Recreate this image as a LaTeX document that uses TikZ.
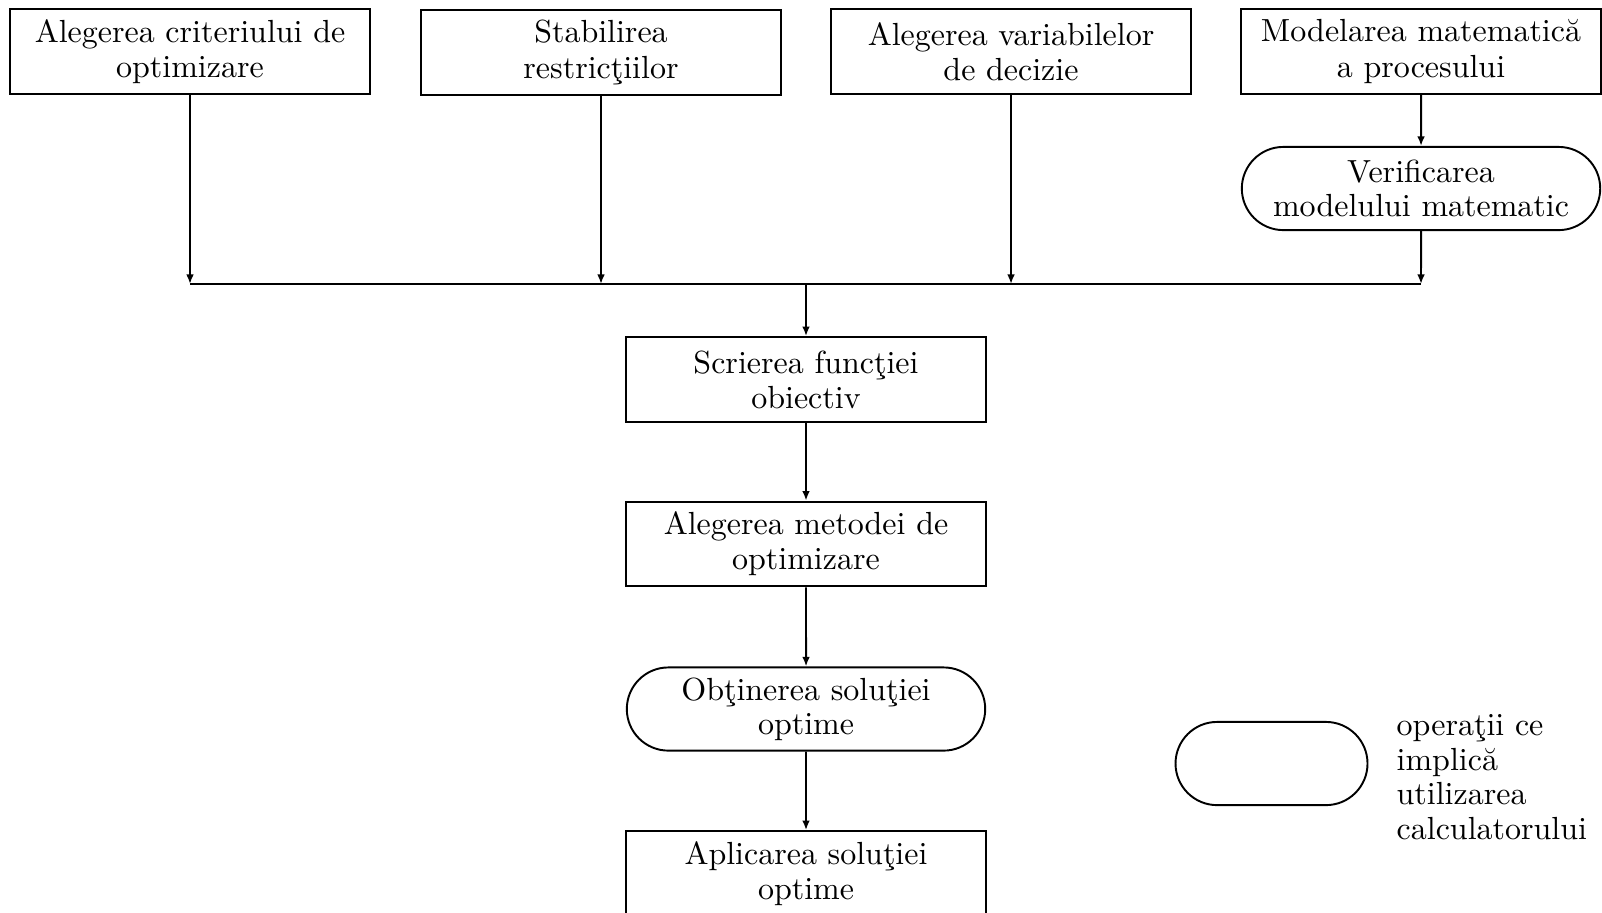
\documentclass[tikz,border=0pt]{standalone}
\usepackage{tikz}
\usetikzlibrary{shapes.misc,arrows.meta}

\begin{document}
\begin{tikzpicture}[x=0.3125pt,y=-0.3125pt,
  box/.style={draw, line width=0.6pt, minimum width=112.5pt, minimum height=26.5pt,
    align=center, inner sep=1pt, font=\fontsize{10}{11}\selectfont},
  calcbox/.style={draw, line width=0.6pt, rounded rectangle, minimum width=114pt,
    minimum height=26pt, align=center, inner sep=1pt, font=\fontsize{10}{10.5}\selectfont},
  flow/.style={line width=0.6pt, -{Latex[length=3pt,width=2.4pt]}},
  bus/.style={line width=0.6pt}]
\useasboundingbox (0,0) rectangle (1602,912);

% Top row of preparatory steps
\node[box] (crit) at (190,51.5) {Alegerea criteriului de\\optimizare};
\node[box] (restr) at (601,52.5) {Stabilirea\\restricţiilor};
\node[box] (var) at (1011,51.5) {Alegerea variabilelor\\de decizie};
\node[box] (model) at (1421,51.5) {Modelarea matematică\\a procesului};
\node[calcbox] (verif) at (1421,188.5) {Verificarea\\modelului matematic};

% Collecting line
\coordinate (bus) at (0,284);
\coordinate (j1) at (crit |- bus);
\coordinate (j2) at (restr |- bus);
\coordinate (j3) at (var |- bus);
\coordinate (j4) at (verif |- bus);
\coordinate (jc) at (806,284);

% Main column
\node[box] (scriere) at (806,379.5) {Scrierea funcţiei\\obiectiv};
\node[box] (metoda) at (806,544) {Alegerea metodei de\\optimizare};
\node[calcbox] (obtin) at (806,709) {Obţinerea soluţiei\\optime};
\node[box] (aplic) at (806,873.5) {Aplicarea soluţiei\\optime};

% Connectors
\draw[flow] (crit) -- (j1);
\draw[flow] (restr) -- (j2);
\draw[flow] (var) -- (j3);
\draw[flow] (model) -- (verif);
\draw[flow] (verif) -- (j4);
\draw[bus] (j1) -- (j4);
\draw[flow] (jc) -- (scriere);
\draw[flow] (scriere) -- (metoda);
\draw[flow] (metoda) -- (obtin);
\draw[flow] (obtin) -- (aplic);

% Legend
\node[calcbox, minimum width=62pt] (legcalc) at (1271.5,763.5) {};
\node[anchor=north west, inner sep=0pt, align=left, font=\fontsize{10}{10.8}\selectfont]
  (legtext) at (1396,714) {operaţii ce\\implică\\utilizarea\\calculatorului};
\end{tikzpicture}
\end{document}
